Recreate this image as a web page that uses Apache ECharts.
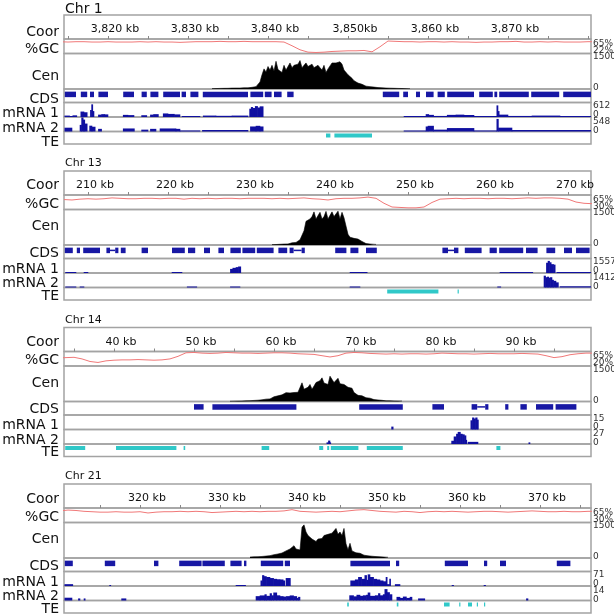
<!DOCTYPE html>
<html><head><meta charset="utf-8">
<script src="https://cdn.jsdelivr.net/npm/echarts@6/dist/echarts.min.js"></script>
<style>html,body{margin:0;padding:0;background:#fff}#c{width:614px;height:615px}</style>
</head><body><div id="c"></div><script>
// ---------------- DATA ----------------
const panelTitles = ['Chr 1', 'Chr 13', 'Chr 14', 'Chr 21'];
const trackNames = ['Coor', '%GC', 'Cen', 'CDS', 'mRNA 1', 'mRNA 2', 'TE'];
const viewStartKb = [3814.5, 207, 33.75, 310.5];
const viewWidthKb = 65.875;

// coordinate ruler
const ticks1 = [3815,3820,3825,3830,3835,3840,3845,3850,3855,3860,3865,3870,3875,3880];
const labelVals1 = [3820,3830,3840,3850,3860,3870];
const labels1 = ['3,820 kb','3,830 kb','3,840 kb','3,850kb','3,860 kb','3,870 kb'];
const ticks2 = [210,215,220,225,230,235,240,245,250,255,260,265,270];
const labelVals2 = [210,220,230,240,250,260,270];
const labels2 = ['210 kb','220 kb','230 kb','240 kb','250 kb','260 kb','270 kb'];
const ticks3 = [35,40,45,50,55,60,65,70,75,80,85,90,95];
const labelVals3 = [40,50,60,70,80,90];
const labels3 = ['40 kb','50 kb','60 kb','70 kb','80 kb','90 kb'];
const ticks4 = [315,320,325,330,335,340,345,350,355,360,365,370,375];
const labelVals4 = [320,330,340,350,360,370];
const labels4 = ['320 kb','330 kb','340 kb','350 kb','360 kb','370 kb'];

// %GC (1 kb steps)
const gcStart = [3814, 207, 33, 310];
const gcRange = [[22,65],[30,65],[20,65],[30,65]];
const gc1 = [57,56,57,57,56,56,57,56,56,56,57,56,57,56,56,55,56,57,57,57,58,57,57,58,57,57,57,57,56,45,33,26,25,26,28,29,30,30,31,27,42,59,58,57,57,56,57,57,56,57,56,56,55,56,56,57,57,58,56,56,57,56,57,56,56,56,57,57];
const gc2 = [54,53,55,56,55,56,58,57,56,56,57,57,56,57,57,55,57,56,57,56,57,57,56,57,57,57,56,57,56,57,58,56,55,53,56,57,57,58,60,57,45,36,35,34,34,36,47,55,56,57,56,57,57,56,57,57,56,57,58,57,58,58,57,55,48,45,44];
const gc3 = [45,46,47,42,34,31,36,38,39,39,40,39,38,39,42,50,61,62,60,59,60,62,61,60,60,59,60,61,61,60,58,57,56,52,48,52,60,62,61,59,58,57,58,57,58,58,57,58,60,59,58,58,57,58,59,58,58,58,59,58,57,52,46,49,55,58,60,60];
const gc4 = [58,60,59,57,56,55,55,56,55,55,56,53,55,56,56,57,56,57,56,54,55,56,57,56,57,56,57,57,58,61,57,56,55,56,57,56,58,60,61,59,57,56,55,57,56,54,56,57,56,57,56,55,56,57,57,56,55,56,57,58,57,56,56,57,56,56,57,57];

// Centromere signal (0.25 kb steps), scale 0-1500
const cenMax = 1500;
const cenStart = [3833.0, 233.0, 54.5, 333.75];
const cen1 = [15,20,18,25,25,30,28,35,30,40,38,45,40,45, 40,45,50,55,50,60,70,80,100,150, 300,600, 850,720,950,800,1000,760,1170,820, 780,700,1000,800,850,1100,900,1000, 950,1050,1200,900,1000,1100,950,1000,1050,900,980,1000, 900,800,1000,700,850,820,1100,1050, 1100,1170,1150,1050,800,750,600,550, 450,350,300,250,220,200,150,120, 110,100,90,80,70,60,55,50,45,40,40,35,30,30,25,25,20,20,15,15,10,10];
const cen2 = [15,18,20,25, 30,35,40,40,45,60,90,100,110,180,220,260,600,1000,1050,1100,1200,1400,1100,1150,1380,1100,1200,1420,1100,1150,1400,1200,1150,1430,1100,1380,1150,1200,450,330,300,280,310,250,200,150,80,60,50,40,35,30,25];
const cen3 = [10,12,15,15,18,20,22,25,28,30,35,40,45,50,55,60,70,90,100,120,110,140,200,180,240,300,280,340,375,445,360,400,380,420,390,450,790,520,480,600,720,520,650,800,750,880,1000,780,850,720,1070,1070,800,850,980,750,700,720,680,600,580,560,380,370,260,250,240,200,160,150,140,120,80,70,65,60,50,35,30,30,28,25,25,22,20,20,18];
const cen4 = [40,45,50,45,55,60,65,70,80,90,100,120,140,160,170,200,210,260,300,340,380,400,520,380,350,340,1300,1400,1100,950,1000,800,750,700,800,880,820,950,900,1000,950,1050,1150,1250,1000,1100,950,1250,600,350,620,300,250,220,240,200,180,120,100,90,80,75,70,60,55,50,45,40,35,30];

// CDS intervals [startKb, endKb]
const cds1 = [[3814.6,3816.0],[3816.6,3817.4],[3817.75,3818.25],[3818.8,3820.0],[3821.9,3823.25],[3824.2,3824.85],[3825.3,3826.3],[3826.9,3829.0],[3829.2,3829.75],[3830.3,3831.3],[3831.85,3837.5],[3837.8,3839.4],[3839.6,3840.45],[3840.75,3841.7],[3842.4,3843.2],[3854.35,3856.4],[3856.9,3857.5],[3858.5,3859.0],[3859.75,3860.7],[3861.2,3862.1],[3862.4,3865.75],[3866.4,3868.1],[3868.3,3868.65],[3868.9,3872.6],[3872.9,3876.4],[3876.9,3880.4]];
const cds2 = [[207.1,208.1],[208.6,209.0],[209.4,211.5],[212.3,212.75],[213.4,213.8],[214.1,214.7],[216.7,217.5],[220.5,222.1],[222.5,223.4],[224.5,225.25],[226.3,227.0],[227.8,229.1],[229.3,230.9],[231.1,233.2],[233.8,234.9],[235.2,235.7],[236.7,237.1],[240.9,242.3],[242.8,243.8],[244.75,246.1],[254.3,255.0],[255.75,256.3],[257.1,259.2],[260.2,261.1],[261.4,264.4],[264.75,266.2],[267.3,268.4],[269.5,270.5],[271.0,272.7]];
const cds3 = [[50.0,51.2],[52.3,62.8],[70.65,76.1],[79.8,81.25],[84.7,85.4],[86.4,86.8],[88.9,89.3],[90.8,91.6],[92.75,94.9],[95.2,97.8]];
const cds4 = [[310.6,311.6],[315.6,316.9],[321.75,322.3],[324.9,327.7],[327.8,330.6],[331.3,332.7],[333.0,333.3],[335.1,337.9],[338.1,338.75],[346.3,351.25],[352.0,352.4],[358.1,361.0],[363.0,363.4],[365.0,365.75],[372.1,373.8]];
const introns1 = [];
const introns2 = [[212.75,213.4],[235.7,236.7],[255.0,255.75]];
const introns3 = [[85.4,86.4]];
const introns4 = [];

// mRNA coverage [kb, value] (value holds until next point)
const m1Max = [612, 1557, 15, 71];
const m2Max = [548, 1412, 27, 14];
const m1_1 = [[3814.5,0],[3814.6,60],[3815.2,40],[3815.6,70],[3816.1,0],[3816.6,230],[3817.0,200],[3817.4,0],[3817.8,300],[3817.95,535],[3818.1,250],[3818.25,0],[3818.8,100],[3819.2,120],[3819.6,110],[3820.0,0],[3821.9,90],[3822.5,80],[3823.25,0],[3824.2,75],[3824.85,0],[3825.3,100],[3825.7,120],[3826.3,0],[3826.9,150],[3827.5,130],[3828.3,110],[3829.0,0],[3829.25,30],[3831.5,0],[3831.9,60],[3833.5,50],[3835.5,60],[3837.5,0],[3837.7,350],[3837.9,420],[3838.1,380],[3838.4,460],[3838.7,400],[3839.0,450],[3839.4,0],[3857.0,20],[3859.75,120],[3860.1,90],[3860.7,45],[3862.4,90],[3863.5,100],[3864.5,85],[3865.75,30],[3868.6,490],[3868.75,250],[3868.9,100],[3870.0,45],[3873.0,60],[3876.5,30],[3880.5,30]];
const m2_1 = [[3814.5,0],[3814.6,144],[3815.5,0],[3816.5,250],[3816.7,530],[3816.9,450],[3817.1,300],[3817.4,0],[3817.7,220],[3818.0,180],[3818.4,0],[3818.8,100],[3819.2,0],[3821.9,115],[3823.3,0],[3824.2,70],[3825.0,0],[3825.3,100],[3826.0,0],[3826.5,115],[3828.5,100],[3829.0,40],[3831.5,0],[3831.8,55],[3837.5,0],[3837.8,190],[3838.5,215],[3839.0,190],[3839.4,0],[3857.0,30],[3859.75,190],[3860.0,215],[3860.7,70],[3862.4,130],[3865.75,40],[3868.6,475],[3868.8,145],[3870.5,55],[3880.5,55]];
const m1_2 = [[207,0],[207.2,20],[208.5,0],[209.5,15],[210,0],[220.5,15],[221.75,0],[227.8,440],[228.1,555],[228.5,630],[228.8,700],[229.1,0],[242.75,20],[244.9,0],[261.5,40],[265.6,0],[267.3,1100],[267.5,1300],[267.7,1150],[267.9,950],[268.2,900],[268.4,0],[268.6,60],[273,60]];
const m2_2 = [[207,0],[207.2,30],[208.5,0],[209,25],[209.5,0],[222.4,50],[223.6,0],[227.8,40],[229,0],[242.75,25],[244,0],[261.2,30],[261.6,0],[267.0,1150],[267.2,1000],[267.4,1050],[267.6,950],[267.8,1000],[268.0,750],[268.2,650],[268.5,500],[268.8,0],[269.0,120],[273,130]];
const m1_3 = [[33.75,0],[74.7,3],[74.9,0],[84.6,9.5],[84.8,12.4],[85.0,11.3],[85.2,12.4],[85.4,10.2],[85.55,0]];
const m2_3 = [[33.75,0],[66.6,3],[66.8,6.4],[67.0,3],[67.1,0],[82.2,6],[82.5,14],[82.8,19],[83.0,22.5],[83.3,19],[83.55,18],[83.8,16],[84.0,7.7],[84.1,0],[84.25,4],[85.5,0],[91.85,3],[92.0,0]];
const m1_4 = [[310.5,0],[310.6,9],[311.6,0],[316.2,3],[316.35,0],[332,2],[333.2,0],[335.1,27],[335.3,53],[335.5,48],[335.8,44],[336.25,39],[336.7,35],[337.1,33],[337.5,32],[337.9,27],[338.1,0],[338.25,39],[338.8,0],[346.33,27],[346.9,32],[347.3,44],[347.7,35],[348.1,53],[348.33,30],[348.5,57],[348.75,44],[349.2,35],[349.6,32],[350.0,27],[350.4,23],[350.75,44],[350.9,9],[351.2,35],[351.33,0],[351.9,9],[352.5,0],[359,2],[359.2,0],[363.0,3],[363.2,0]];
const m2_4 = [[310.5,0],[310.6,2.7],[311.5,0],[312.3,2],[312.5,0],[313.0,2],[313.15,0],[317.7,2],[318.25,0],[334.5,4.2],[335.0,4.9],[335.6,6],[335.8,4.5],[336.25,7],[336.45,5],[336.7,7.7],[337.1,5],[337.5,4.2],[337.9,3.8],[338.3,4.2],[338.75,4.9],[339.2,4.2],[339.6,2.5],[339.8,3.5],[340.0,0],[346.2,5],[346.7,4],[347.1,5.5],[347.5,4.5],[347.9,5],[348.3,5.5],[348.5,7.7],[348.75,4.5],[349.4,5],[349.8,7],[350.0,5],[350.4,6],[350.6,11],[350.9,8],[351.2,6],[351.5,0],[352.1,3.5],[352.5,2.5],[352.9,3.8],[353.3,2.5],[353.75,3.5],[354.0,0],[354.8,2],[355.6,0],[368.3,2],[368.5,0]];

// Transposable elements [startKb, endKb]
const te1 = [[3847.25,3847.8],[3848.3,3853.0]];
const te2 = [[247.4,253.8],[256.2,256.35]];
const te3 = [[33.9,36.4],[40.25,47.8],[48.7,48.9],[58.45,59.4],[65.65,66.15],[66.65,66.9],[67.1,70.55],[71.6,76.1],[87.8,88.3]];
const te4 = [[345.9,346.1],[352.1,352.3],[358.0,358.7],[359.9,360.05],[361.0,361.5],[362.1,362.25],[363.0,363.15]];

// ---------------- LAYOUT / STYLE ----------------
const panelTop = [15, 171, 327.5, 484];
const titleSize = [14, 11, 11, 11];
const titleDy = [-5.5, -8, -7.5, -8];
const edges = [0, 24, 38.5, 74, 87.5, 102, 116.5, 129];
const nameDyByPanel = [
  [17.5, 34, 61, 84.5, 98.5, 113, 127],
  [14.5, 33, 55.5, 82, 98, 112.5, 125],
  [14.5, 33, 55.5, 82, 98, 112.5, 125],
  [15.5, 33, 55.5, 82, 98, 112.5, 125]
];
const LEFT = 64, WIDTH = 527;
const FONT = 'DejaVu Sans';
const BORDER = '#a3a3a3';
const BLUE = '#1818a4';
const MBLUE = '#1010a0';
const CYAN = '#30c8c8';
const GCRED = '#f07878';

const P = [
  {ticks:ticks1, lv:labelVals1, lb:labels1, gc:gc1, cen:cen1, cds:cds1, intr:introns1, m1:m1_1, m2:m2_1, te:te1},
  {ticks:ticks2, lv:labelVals2, lb:labels2, gc:gc2, cen:cen2, cds:cds2, intr:introns2, m1:m1_2, m2:m2_2, te:te2},
  {ticks:ticks3, lv:labelVals3, lb:labels3, gc:gc3, cen:cen3, cds:cds3, intr:introns3, m1:m1_3, m2:m2_3, te:te3},
  {ticks:ticks4, lv:labelVals4, lb:labels4, gc:gc4, cen:cen4, cds:cds4, intr:introns4, m1:m1_4, m2:m2_4, te:te4}
];

// coverage breakpoints -> segments [start, end, value] (non-zero only)
function toSegments(d) {
  const out = [];
  for (let i = 0; i < d.length - 1; i++) if (d[i][1] > 0) out.push([d[i][0], d[i + 1][0], d[i][1]]);
  return out;
}

function clipTo(rect, cs) {
  return echarts.graphic.clipRectByRect(rect, {x: cs.x, y: cs.y, width: cs.width, height: cs.height});
}
function boxRenderer(h, yv) {
  return function (params, api) {
    const s = api.coord([api.value(0), yv]);
    const e = api.coord([api.value(1), yv]);
    const r = clipTo({x: s[0], y: s[1] - h / 2, width: Math.max(e[0] - s[0], 1), height: h}, params.coordSys);
    return r && {type: 'rect', shape: r, style: {fill: api.visual('color')}};
  };
}
function coverageRenderer(params, api) {
  const a = api.coord([api.value(0), api.value(2)]);
  const b = api.coord([api.value(1), 0]);
  const h = Math.max(b[1] - a[1], 1);
  // slight overlap so neighbouring segments join without seams
  const r = clipTo({x: a[0] - 0.3, y: b[1] - h, width: Math.max(b[0] - a[0], 0.8) + 0.6, height: h}, params.coordSys);
  return r && {type: 'rect', shape: r, style: {fill: api.visual('color')}};
}

const grid = [], xAxis = [], yAxis = [], series = [], graphic = [];

P.forEach((pd, p) => {
  const T = panelTop[p];
  const xmin = viewStartKb[p], xmax = viewStartKb[p] + viewWidthKb;
  for (let t = 0; t < 7; t++) {
    const g = p * 7 + t;
    grid.push({left: LEFT, width: WIDTH, top: T + edges[t], height: edges[t + 1] - edges[t],
      show: true, borderColor: BORDER, borderWidth: 1.5, backgroundColor: 'transparent'});
    const xa = {type: 'value', gridIndex: g, min: xmin, max: xmax, show: t === 0,
      axisLine: {show: false, onZero: false}, splitLine: {show: false}};
    if (t === 0) {
      xa.position = 'bottom';
      xa.axisTick = {show: true, inside: true, length: 3, lineStyle: {color: '#888', width: 1}, customValues: pd.ticks};
      xa.axisLabel = {show: true, inside: true, margin: 4, customValues: pd.lv,
        formatter: v => pd.lb[pd.lv.indexOf(v)], fontSize: 11, fontFamily: FONT, color: '#111',
        padding: [0, 0, 0, 14]};
    }
    xAxis.push(xa);
    let ymin = 0, ymax = 1;
    if (t === 1) { ymin = gcRange[p][0]; ymax = gcRange[p][1]; }
    if (t === 2) { ymax = cenMax; }
    if (t === 4) { ymax = m1Max[p]; }
    if (t === 5) { ymax = m2Max[p]; }
    yAxis.push({type: 'value', gridIndex: g, min: ymin, max: ymax, show: false, splitLine: {show: false}});
  }
  const g0 = p * 7;
  // GC
  series.push({type: 'line', xAxisIndex: g0 + 1, yAxisIndex: g0 + 1, symbol: 'none', silent: true,
    data: pd.gc.map((v, i) => [gcStart[p] + i, v]), lineStyle: {color: GCRED, width: 1}});
  // Cen
  series.push({type: 'line', xAxisIndex: g0 + 2, yAxisIndex: g0 + 2, symbol: 'none', silent: true,
    data: pd.cen.map((v, i) => [cenStart[p] + i * 0.25, v]),
    lineStyle: {color: '#000', width: 0.6}, areaStyle: {color: '#000', opacity: 1}});
  // CDS introns + boxes
  series.push({type: 'custom', xAxisIndex: g0 + 3, yAxisIndex: g0 + 3, silent: true,
    renderItem: boxRenderer(1.5, 0.6), itemStyle: {color: BLUE}, encode: {x: [0, 1]}, data: pd.intr});
  series.push({type: 'custom', xAxisIndex: g0 + 3, yAxisIndex: g0 + 3, silent: true,
    renderItem: boxRenderer(5.5, 0.6), itemStyle: {color: BLUE}, encode: {x: [0, 1]}, data: pd.cds});
  // mRNA coverage
  [[pd.m1, 4], [pd.m2, 5]].forEach(([d, t]) => {
    series.push({type: 'custom', xAxisIndex: g0 + t, yAxisIndex: g0 + t, silent: true,
      renderItem: coverageRenderer, itemStyle: {color: MBLUE}, encode: {x: [0, 1], y: 2}, data: toSegments(d)});
  });
  // TE
  series.push({type: 'custom', xAxisIndex: g0 + 6, yAxisIndex: g0 + 6, silent: true,
    renderItem: boxRenderer(4, 0.68), itemStyle: {color: CYAN}, encode: {x: [0, 1]}, data: pd.te});

  // titles & track names
  graphic.push({type: 'text', x: LEFT + 1, y: T + titleDy[p],
    style: {text: panelTitles[p], font: titleSize[p] + 'px ' + FONT, fill: '#111', align: 'left', verticalAlign: 'middle'}});
  trackNames.forEach((nm, t) => {
    graphic.push({type: 'text', x: 59, y: T + nameDyByPanel[p][t],
      style: {text: nm, font: '14px ' + FONT, fill: '#111', align: 'right', verticalAlign: 'middle'}});
  });
  // scale labels on the right
  const rl = [
    [gcRange[p][1] + '%', 28.5], [gcRange[p][0] + '%', 35.3],
    [String(cenMax), 42], ['0', 73],
    [String(m1Max[p]), 91], ['0', 99.5],
    [String(m2Max[p]), 106.5], ['0', 115.5]
  ];
  rl.forEach(([txt, dy]) => {
    graphic.push({type: 'text', x: 593, y: T + dy,
      style: {text: txt, font: '9px ' + FONT, fill: '#333', align: 'left', verticalAlign: 'middle'}});
  });
});

const chart = echarts.init(document.getElementById('c'), null, {renderer: 'canvas'});
chart.setOption({animation: false, backgroundColor: '#fff', grid, xAxis, yAxis, series, graphic});
</script></body></html>
